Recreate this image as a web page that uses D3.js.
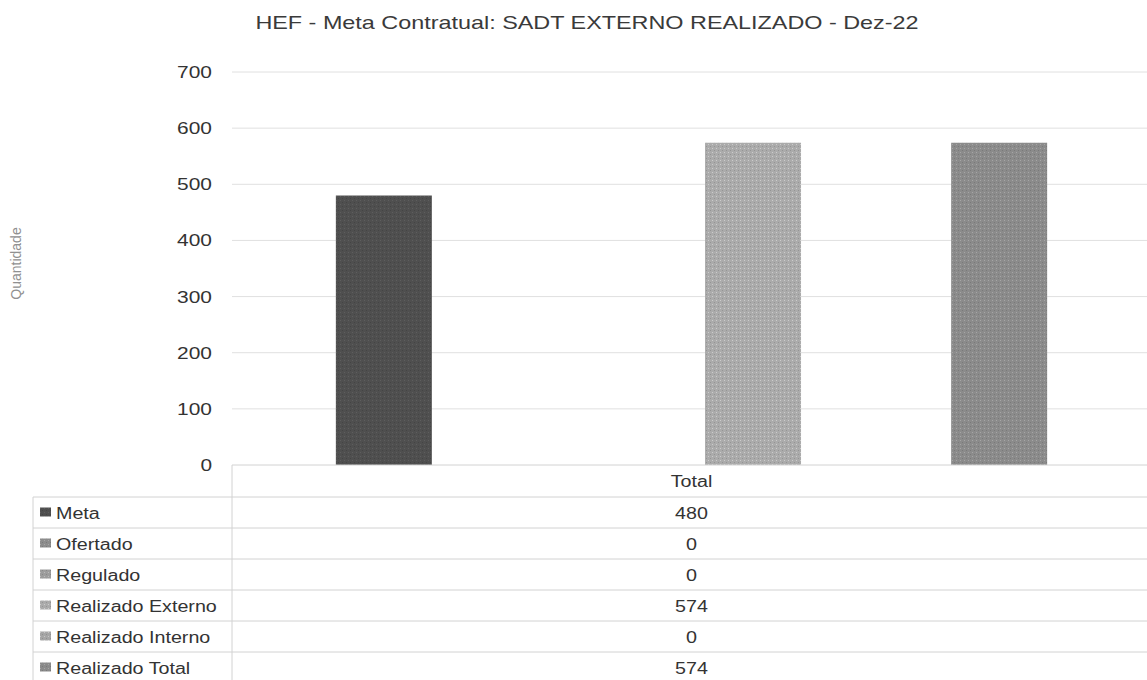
<!DOCTYPE html>
<html>
<head>
<meta charset="utf-8">
<script src="https://cdn.jsdelivr.net/npm/d3@7"></script>
<style>
  html, body { margin: 0; padding: 0; background: #fff; }
  svg { display: block; font-family: "Liberation Sans", Arial, sans-serif; }
</style>
</head>
<body>
<svg id="chart" width="1147" height="680"></svg>
<script>
const title = "HEF - Meta Contratual: SADT EXTERNO REALIZADO - Dez-22";
const yAxisLabel = "Quantidade";
const categories = ["Total"];
const seriesNames = ["Meta", "Ofertado", "Regulado", "Realizado Externo", "Realizado Interno", "Realizado Total"];
const seriesValues = [480, 0, 0, 574, 0, 574];
const seriesColors = ["#4f4f4f", "#8c8c8c", "#9c9c9c", "#ababab", "#a6a6a6", "#8b8b8b"];
const yTicks = [0, 100, 200, 300, 400, 500, 600, 700];

const svg = d3.select("#chart");
const W = 1147, H = 680;
const plot = { left: 232, right: 1151, top: 72, bottom: 465 };
const STRETCH = 1.23; // the scanned original is stretched horizontally

function stretch(sel) {
  sel.each(function () {
    const n = this.getComputedTextLength();
    this.setAttribute("textLength", (n * STRETCH).toFixed(1));
    this.setAttribute("lengthAdjust", "spacingAndGlyphs");
  });
  return sel;
}

// texture pattern to mimic scanned print
const defs = svg.append("defs");
seriesColors.forEach((c, i) => {
  const p = defs.append("pattern").attr("id", "pat" + i)
    .attr("width", 4).attr("height", 4).attr("patternUnits", "userSpaceOnUse");
  p.append("rect").attr("width", 4).attr("height", 4).attr("fill", c);
  p.append("rect").attr("width", 1).attr("height", 1).attr("x", 0).attr("y", 0)
    .attr("fill", d3.color(c).brighter(0.5));
  p.append("rect").attr("width", 1).attr("height", 1).attr("x", 2).attr("y", 2)
    .attr("fill", d3.color(c).darker(0.4));
});

const y = d3.scaleLinear().domain([0, 700]).range([plot.bottom, plot.top]);
const x0 = d3.scaleBand().domain(categories).range([plot.left, plot.right]).paddingInner(0).paddingOuter(0.146);
const x1 = d3.scaleBand().domain(seriesNames).range([0, x0.bandwidth()]).paddingInner(0.22).paddingOuter(0);

// title
svg.append("text").attr("x", 587).attr("y", 29).attr("text-anchor", "middle")
  .attr("font-size", 19).attr("fill", "#3a3a3a").text(title).call(stretch);

// y axis label
svg.append("text").attr("transform", `translate(21,${(plot.top + plot.bottom) / 2 - 5}) rotate(-90)`)
  .attr("text-anchor", "middle").attr("font-size", 14).attr("fill", "#909090").text(yAxisLabel);

// grid
svg.append("g").selectAll("line").data(yTicks.filter(d => d > 0)).join("line")
  .attr("x1", plot.left).attr("x2", W).attr("y1", d => y(d)).attr("y2", d => y(d))
  .attr("stroke", "#e0e0e0").attr("stroke-width", 1);

// y axis
const yAxis = d3.axisLeft(y).tickValues(yTicks).tickSize(0).tickPadding(20);
const gy = svg.append("g").attr("transform", `translate(${plot.left},0)`).call(yAxis);
gy.select(".domain").remove();
gy.selectAll("text").attr("font-size", 17).attr("fill", "#333")
  .attr("font-family", "Liberation Sans, Arial, sans-serif").call(stretch);

// bars
const g = svg.append("g");
categories.forEach(cat => {
  g.selectAll("rect.bar").data(seriesNames.map((s, i) => ({ s, i, v: seriesValues[i] })))
    .join("rect").attr("class", "bar")
    .attr("x", d => x0(cat) + x1(d.s)).attr("width", x1.bandwidth())
    .attr("y", d => y(d.v)).attr("height", d => y(0) - y(d.v))
    .attr("fill", d => `url(#pat${d.i})`);
});

// data table
const rowH = 31;
const headerTop = plot.bottom;
const tableTop = 497;
const tableLeft = 33;
const lineColor = "#d2d2d2";
const tg = svg.append("g");
tg.append("line").attr("x1", plot.left).attr("x2", W).attr("y1", plot.bottom).attr("y2", plot.bottom)
  .attr("stroke", lineColor);
tg.append("line").attr("x1", plot.left).attr("x2", plot.left).attr("y1", plot.bottom).attr("y2", H)
  .attr("stroke", lineColor);
tg.append("line").attr("x1", tableLeft).attr("x2", tableLeft).attr("y1", tableTop).attr("y2", H)
  .attr("stroke", lineColor);
d3.range(seriesNames.length).forEach(i => {
  tg.append("line").attr("x1", tableLeft).attr("x2", W)
    .attr("y1", tableTop + i * rowH).attr("y2", tableTop + i * rowH).attr("stroke", lineColor);
});
categories.forEach(cat => {
  tg.append("text").attr("x", x0(cat) + x0.bandwidth() / 2).attr("y", (headerTop + tableTop) / 2 + 6)
    .attr("text-anchor", "middle").attr("font-size", 16).attr("fill", "#333").text(cat).call(stretch);
});
seriesNames.forEach((s, i) => {
  const cy = tableTop + i * rowH + rowH / 2;
  tg.append("rect").attr("x", tableLeft + 7).attr("y", cy - 5).attr("width", 11).attr("height", 9)
    .attr("fill", `url(#pat${i})`);
  tg.append("text").attr("x", tableLeft + 23).attr("y", cy + 6).attr("font-size", 16)
    .attr("fill", "#333").text(s).call(stretch);
  categories.forEach(cat => {
    tg.append("text").attr("x", x0(cat) + x0.bandwidth() / 2).attr("y", cy + 6)
      .attr("text-anchor", "middle").attr("font-size", 16).attr("fill", "#333")
      .text(seriesValues[i]).call(stretch);
  });
});
</script>
</body>
</html>
